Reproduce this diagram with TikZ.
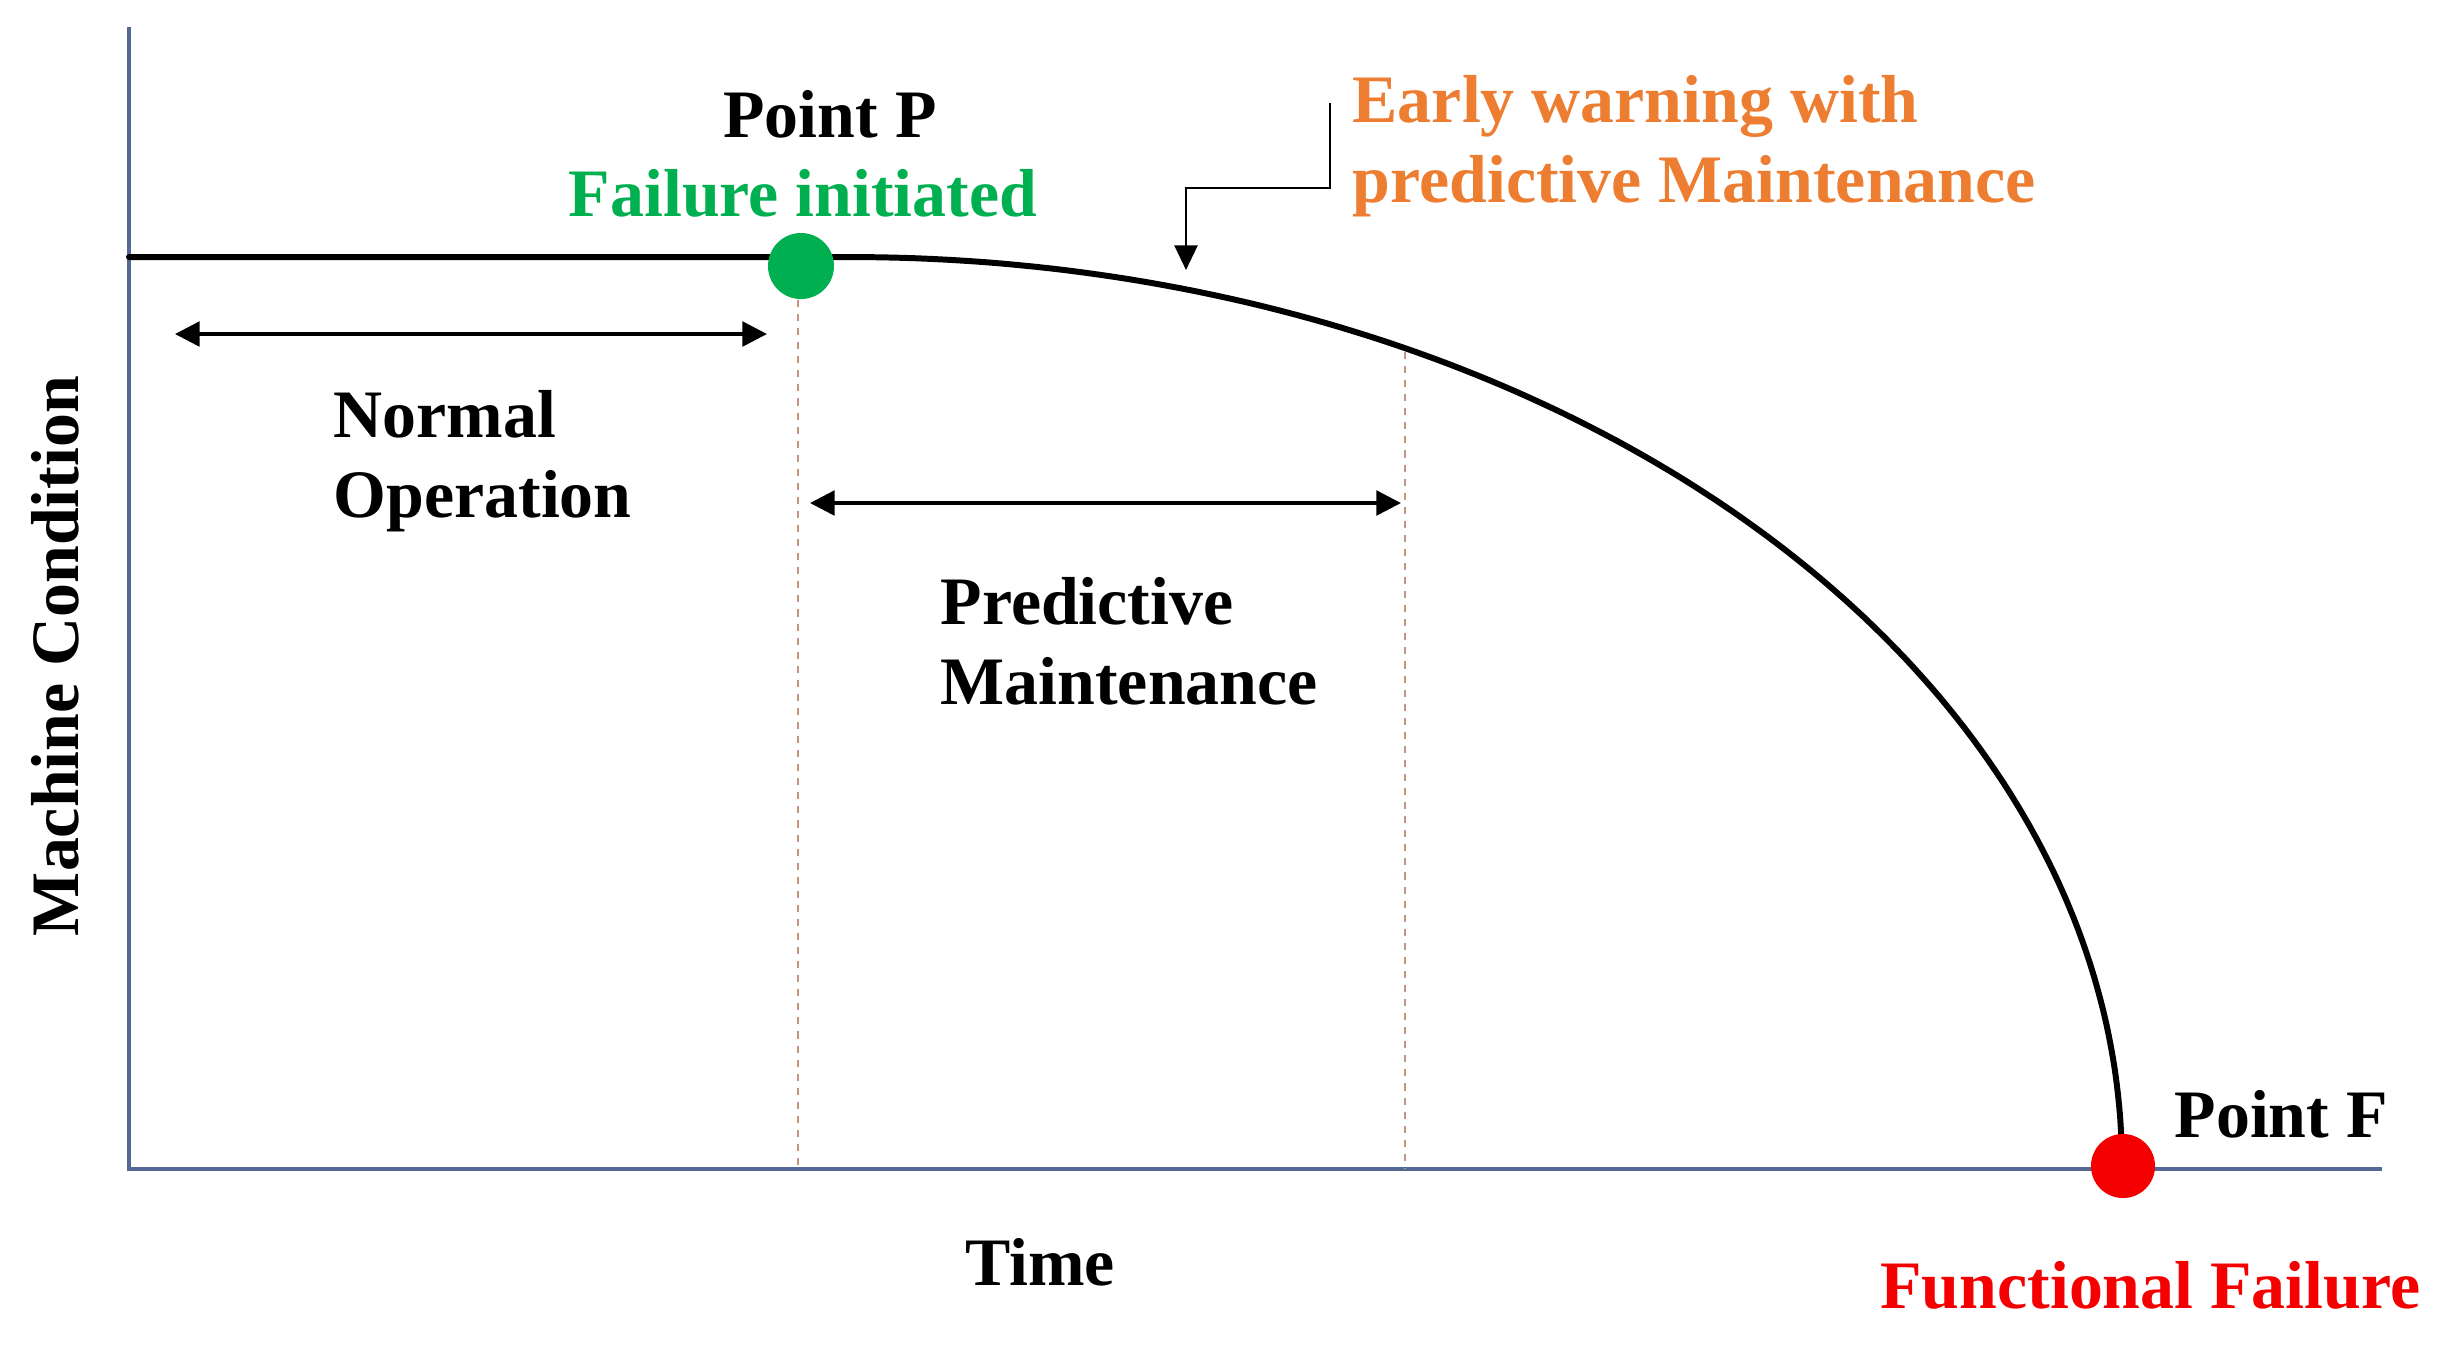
\documentclass[tikz,border=0pt]{standalone}
\usepackage{fontspec}
\setmainfont{Liberation Serif}
\usetikzlibrary{arrows.meta}
\definecolor{axisblue}{RGB}{85,105,150}
\definecolor{pgreen}{RGB}{0,176,80}
\definecolor{porange}{RGB}{237,125,49}
\definecolor{pred}{RGB}{245,0,0}
\definecolor{dashcol}{RGB}{195,150,125}
\begin{document}
\begin{tikzpicture}[x=0.01cm,y=-0.01cm,
  lbl/.style={font=\fontsize{19.3}{22.8}\selectfont\bfseries, inner sep=0pt},
  axisline/.style={draw=axisblue, line width=1pt},
  guide/.style={draw=dashcol, line width=0.8pt, dash pattern=on 2pt off 2pt},
  span/.style={line width=1pt, {Triangle[length=7pt,width=7pt]}-{Triangle[length=7pt,width=7pt]}},
  callout/.style={line width=0.8pt, -{Triangle[length=7pt,width=6.5pt]}},
  curveline/.style={line width=1.7pt, line cap=round, line join=round},
  dot/.style={circle, inner sep=0pt, minimum size=0.66cm}]
\fill[white] (0,0) rectangle (2450,1347);
\useasboundingbox (0,0) rectangle (2450,1347);
% axes
\coordinate (Ytop) at (129,27);
\coordinate (O) at (129,1169);
\coordinate (Xend) at (2382,1169);
\draw[axisline] (Ytop) -- (O) -- (Xend);
% dashed guides
\coordinate (g1t) at (798,300); \coordinate (g1b) at (798,1169);
\coordinate (g2t) at (1405,352); \coordinate (g2b) at (1405,1169);
\draw[guide] (g1t) -- (g1b);
\draw[guide] (g2t) -- (g2b);
% condition curve: flat, then a quarter ellipse down to point F
\coordinate (cstart) at (129,257);
\coordinate (cbend) at (850,257);
\draw[curveline] (cstart) -- (cbend) -- plot[domain=90:0, samples=120, variable=\t] ({850+1272*cos(\t)}, {1166-909*sin(\t)});
% dots
\node[dot, fill=pgreen] (P) at (801,266) {};
\node[dot, fill=pred, minimum size=0.64cm] (F) at (2123,1166) {};
% span arrows
\coordinate (n1) at (175,334); \coordinate (n2) at (767,334);
\draw[span] (n1) -- (n2);
\coordinate (p1) at (810,503); \coordinate (p2) at (1401,503);
\draw[span] (p1) -- (p2);
% callout
\coordinate (c0) at (1330,103);
\coordinate (c1) at (1330,188);
\coordinate (c2) at (1186,188);
\coordinate (ctip) at (1186,270);
\draw[callout] (c0) -- (c1) -- (c2) -- (ctip);
% labels
\node[lbl, anchor=base] (pp) at (830,137) {Point P};
\node[lbl, anchor=base, text=pgreen] (fi) at (803,216) {Failure initiated};
\node[lbl, anchor=north west, align=left] (no) at (333,390) {Normal\\Operation};
\node[lbl, anchor=north west, align=left] (pm) at (940,577) {Predictive\\Maintenance};
\node[lbl, anchor=north west, align=left, text=porange] (ew) at (1352,75) {Early warning with\\predictive Maintenance};
\node[lbl, anchor=base west] (pf) at (2174,1137) {Point F};
\node[lbl, anchor=base east, text=pred] (ff) at (2421,1308) {Functional Failure};
\node[lbl, anchor=base] (tm) at (1040,1285) {Time};
\node[lbl, anchor=base, rotate=90] (mc) at (78,656) {Machine Condition};
\end{tikzpicture}
\end{document}
